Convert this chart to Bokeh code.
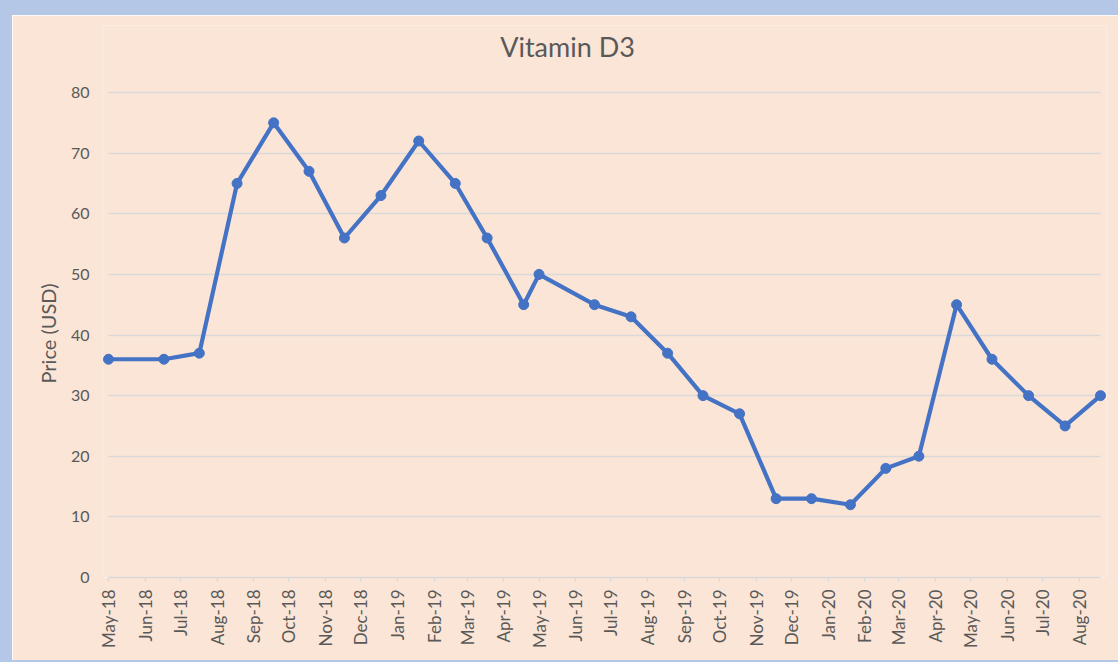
import pandas as pd
from math import pi
from bokeh.plotting import figure
from bokeh.models import (Range1d, FixedTicker, DatetimeTickFormatter, Label,
                          Title, ColumnDataSource)
from bokeh.embed import file_html
from bokeh.resources import INLINE

# ---------------- data ----------------
title_text = "Vitamin D3"
y_label = "Price (USD)"

dates = ["2018-05-01", "2018-06-17", "2018-07-17", "2018-08-18", "2018-09-18",
         "2018-10-18", "2018-11-17", "2018-12-18", "2019-01-19", "2019-02-19",
         "2019-03-18", "2019-04-18", "2019-05-01", "2019-06-17", "2019-07-18",
         "2019-08-18", "2019-09-17", "2019-10-18", "2019-11-18", "2019-12-18",
         "2020-01-20", "2020-02-19", "2020-03-18", "2020-04-19", "2020-05-19",
         "2020-06-19", "2020-07-20", "2020-08-19"]
prices = [36, 36, 37, 65, 75, 67, 56, 63, 72, 65, 56, 45, 50, 45, 43, 37, 30,
          27, 13, 13, 12, 18, 20, 45, 36, 30, 25, 30]

tick_labels = ["May-18", "Jun-18", "Jul-18", "Aug-18", "Sep-18", "Oct-18",
               "Nov-18", "Dec-18", "Jan-19", "Feb-19", "Mar-19", "Apr-19",
               "May-19", "Jun-19", "Jul-19", "Aug-19", "Sep-19", "Oct-19",
               "Nov-19", "Dec-19", "Jan-20", "Feb-20", "Mar-20", "Apr-20",
               "May-20", "Jun-20", "Jul-20", "Aug-20"]
y_ticks = [0, 10, 20, 30, 40, 50, 60, 70, 80]

# ---------------- style / layout ----------------
FONT = "Lato"
TEXT = "#595959"
BG = "#FBE5D6"
GRID = "#D9D9D9"
LINE = "#4472C4"
FRAME = "#B4C7E7"

W, H = 1118, 662               # outer box (css border sits inside it)
PLOT_L, PLOT_R = 96, 1088      # canvas x of first / last date
PLOT_T, PLOT_B = 77, 562       # canvas y of top / bottom y tick
FRAME_T = 10                   # frame starts higher so the title fits inside it
PAD = 6                        # px of room so end markers are not clipped

dt = pd.to_datetime(dates)
tick_dt = pd.to_datetime(tick_labels, format="%b-%y")
tick_ms = [int(t.timestamp() * 1000) for t in tick_dt]

x0, x1 = dt[0], dt[-1]
x0_ms, x1_ms = x0.timestamp() * 1000, x1.timestamp() * 1000
pad_td = (x1 - x0) * PAD / (PLOT_R - PLOT_L)
y0, y1 = y_ticks[0], y_ticks[-1]
y_top = y1 + (PLOT_T - FRAME_T) * (y1 - y0) / (PLOT_B - PLOT_T)

src = ColumnDataSource(dict(date=dt, price=prices))

p = figure(width=W, height=H, x_axis_type="datetime",
           output_backend="svg", toolbar_location=None,
           x_range=Range1d(x0 - pad_td, x1 + pad_td), y_range=Range1d(y0, y_top),
           min_border_left=PLOT_L - PAD, min_border_right=W - PLOT_R - PAD,
           min_border_top=FRAME_T, min_border_bottom=H - PLOT_B)
p.styles = {"border-left": f"12px solid {FRAME}", "border-top": f"15px solid {FRAME}",
            "border-bottom": f"2px solid {FRAME}"}
p.background_fill_color = BG
p.border_fill_color = BG
p.outline_line_color = None

# chart title, centred over the whole chart area
p.add_layout(Label(x=555 - (PLOT_L - PAD), y=PLOT_B - 31, x_units="screen", y_units="screen",
                   text=title_text, text_font=FONT, text_font_size="27px",
                   text_color=TEXT, text_align="center",
                   text_baseline="alphabetic"))

# y axis
ya = p.yaxis[0]
ya.ticker = FixedTicker(ticks=y_ticks)
ya.bounds = (y0, y1)
ya.axis_line_color = None
ya.major_tick_line_color = None
ya.major_tick_out = 0
ya.major_tick_in = 0
ya.minor_tick_line_color = None
ya.minor_tick_out = 0
ya.major_label_text_font = FONT
ya.major_label_text_font_size = "16px"
ya.major_label_text_color = TEXT
ya.major_label_standoff = 13

# y axis title, placed beside the tick labels and centred on the 0-80 span
p.add_layout(Title(text=y_label, align="left", offset=194, vertical_align="bottom",
                   standoff=16, text_font=FONT, text_font_size="20px",
                   text_font_style="normal", text_color=TEXT), "left")

# x axis
xa = p.xaxis[0]
xa.ticker = FixedTicker(ticks=tick_ms)
xa.bounds = (x0_ms, x1_ms)
fmt = "%b-%y"
xa.formatter = DatetimeTickFormatter(microseconds=fmt, milliseconds=fmt, seconds=fmt,
                                     minsec=fmt, minutes=fmt, hourmin=fmt, hours=fmt,
                                     days=fmt, months=fmt, years=fmt)
xa.major_label_overrides = {ms: lab for ms, lab in zip(tick_ms, tick_labels)}
xa.major_label_orientation = pi / 2
xa.major_tick_out = 4
xa.major_tick_in = 0
xa.minor_tick_line_color = None
xa.minor_tick_out = 0
xa.axis_line_color = GRID
xa.axis_line_width = 1.3
xa.major_tick_line_color = GRID
xa.major_tick_line_width = 1.3
xa.major_label_text_font = FONT
xa.major_label_text_font_size = "17px"
xa.major_label_text_color = TEXT
xa.major_label_standoff = 8

# grids
p.xgrid.grid_line_color = None
yg = p.ygrid[0]
yg.ticker = FixedTicker(ticks=y_ticks)
yg.grid_line_color = GRID
yg.grid_line_width = 1.3
if "cross_bounds" in yg.properties():
    yg.cross_bounds = (x0_ms, x1_ms)

# series
p.line("date", "price", source=src, line_width=4.2, line_color=LINE, line_join="round")
p.scatter("date", "price", source=src, size=10, fill_color=LINE, line_color=LINE)

open("out.html", "w").write(file_html(p, INLINE))
